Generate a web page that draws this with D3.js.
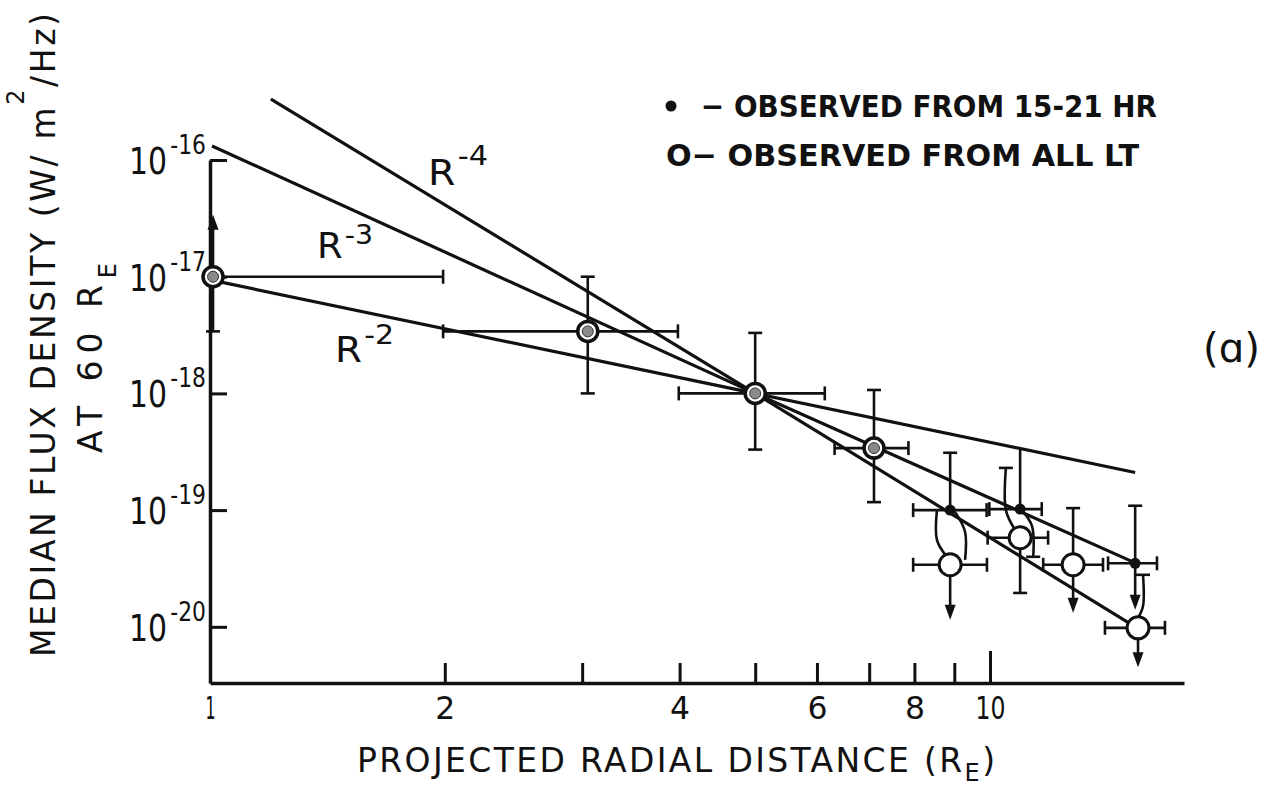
<!DOCTYPE html>
<html>
<head>
<meta charset="utf-8">
<script src="https://cdn.jsdelivr.net/npm/d3@7"></script>
<style>
  body { margin: 0; background: #fff; }
  svg { display: block; font-family: 'DejaVu Sans', sans-serif; }
</style>
</head>
<body>
<script>
// axis ticks
const xTicks = [1, 2, 3, 4, 5, 6, 7, 8, 9, 10];
const xLabels = [1, 2, 4, 6, 8, 10];
const yTicks = [1e-16, 1e-17, 1e-18, 1e-19, 1e-20];
const yExps = ['-16', '-17', '-18', '-19', '-20'];

// guide lines [R, flux]
const lineR2 = [[1.015, 9.2e-18], [5.0, 1.0e-18], [15.35, 2.1e-19]];
const lineR3 = [[1.006, 1.32e-16], [5.0, 1.0e-18], [15.25, 3.6e-20]];
const lineR4 = [[1.197, 3.33e-16], [5.0, 1.0e-18], [15.43, 9.8e-21]];

// points seen in both samples (circled)
const bothR = [1.009, 3.05, 5.0, 7.1];
const bothFlux = [1.0e-17, 3.4e-18, 1.0e-18, 3.4e-19];
const bothRLo = [1.009, 1.99, 3.99, 6.32];
const bothRHi = [1.99, 3.98, 6.14, 7.86];
const bothFLo = [3.4e-18, 1.0e-18, 3.3e-19, 1.17e-19];
const bothFHi = [3.4e-17, 1.0e-17, 3.3e-18, 1.07e-18];
const bothUp = [true, false, false, false];

// observed from 15-21 HR (filled)
const hrR = [8.89, 10.93, 15.35];
const hrFlux = [1.0e-19, 1.02e-19, 3.5e-20];
const hrRLo = [7.97, 9.98, 14.17];
const hrRHi = [9.9, 11.65, 16.37];
const hrFHi = [3.1e-19, 3.3e-19, 1.09e-19];
const hrCapTop = [true, false, true];
const hrFLo = [null, null, 1.4e-20];

// observed from all LT (open)
const allR = [8.89, 10.93, 12.78, 15.48];
const allFlux = [3.4e-20, 5.8e-20, 3.4e-20, 9.8e-21];
const allRLo = [7.97, 9.93, 11.7, 14.04];
const allRHi = [9.91, 11.87, 13.96, 16.76];
const allFHi = [null, null, 1.04e-19, null];
const allFLo = [1.15e-20, 1.95e-20, 1.32e-20, 4.5e-21];
const allDown = [true, false, true, true];

// hand drawn links between filled and open points
const links = [
  [[8.55, 1.0e-19], [8.55, 5.56e-20], [8.78, 4.07e-20]],
  [[9.02, 9.66e-20], [9.29, 6.52e-20], [9.29, 3.75e-20]],
  [[10.48, 2.3e-19], [10.48, 1.0e-19], [10.73, 7.05e-20]],
  [[10.99, 1.0e-19], [11.32, 7.3e-20], [11.36, 3.98e-20]],
  [[15.48, 1.19e-20], [15.71, 1.51e-20], [15.71, 2.79e-20]]
];
const linkCap = ['', '', 'start', 'end', 'end'];

const W = 1276, H = 793;
const ink = '#111';

const svg = d3.select('body').append('svg').attr('width', W).attr('height', H);

const x = d3.scaleLog().domain([1, 17.73]).range([210, 1184]);
const y = d3.scaleLog().domain([3.3e-21, 1e-16]).range([683, 160]);

// text made of pieces: [string, fontSize, dy, dx]
function label(g, px, py, parts, len, mode) {
  const t = g.append('text').attr('x', px).attr('y', py).attr('fill', ink);
  parts.forEach(p => {
    t.append('tspan').attr('font-size', p[1]).attr('dy', p[2] || 0).attr('dx', p[3] || 0).text(p[0]);
  });
  if (len) t.attr('textLength', len).attr('lengthAdjust', mode || 'spacingAndGlyphs');
  return t;
}

// axes
const xAxis = d3.axisBottom(x).tickValues(xTicks).tickSize(-20).tickSizeOuter(0)
  .tickFormat(d => xLabels.includes(d) ? d : '');
const gx = svg.append('g').attr('transform', 'translate(0,683)').call(xAxis);
gx.select('.domain').attr('stroke', ink).attr('stroke-width', 3.5);
gx.selectAll('.tick line').attr('stroke', ink).attr('stroke-width', 3)
  .attr('y2', d => d === 1 ? 0 : (d === 10 ? -32 : -20));
gx.selectAll('.tick text').attr('fill', ink).attr('font-size', 32)
  .attr('font-family', 'DejaVu Sans').attr('y', 13)
  .attr('textLength', d => d === 10 ? 30 : (d === 1 ? 10 : 20))
  .attr('lengthAdjust', 'spacingAndGlyphs');

const yAxis = d3.axisLeft(y).tickValues(yTicks).tickSize(-17).tickSizeOuter(0).tickFormat(() => '');
const gy = svg.append('g').attr('transform', 'translate(210,0)').call(yAxis);
gy.select('.domain').attr('stroke', ink).attr('stroke-width', 3.5);
gy.selectAll('.tick line').attr('stroke', ink).attr('stroke-width', 3);

yTicks.forEach((v, i) => {
  label(svg, 129, y(v) + 14, [['10', 37], [yExps[i], 27, -20, 4]], 77);
});

// guide lines
const guide = d3.line().x(d => x(d[0])).y(d => y(d[1]));
[lineR2, lineR3, lineR4].forEach(l => {
  svg.append('path').attr('d', guide(l)).attr('fill', 'none')
    .attr('stroke', ink).attr('stroke-width', 3.2);
});

// error bars
const bars = svg.append('g').attr('stroke', ink).attr('stroke-width', 2.6).attr('fill', 'none');
function seg(x1, y1, x2, y2) {
  bars.append('line').attr('x1', x1).attr('y1', y1).attr('x2', x2).attr('y2', y2);
}
function tee(px, py, vert) {
  if (vert) seg(px, py - 7, px, py + 7); else seg(px - 7, py, px + 7, py);
}
function head(px, py, dir) {
  svg.append('path')
    .attr('d', `M${px},${py} L${px - 5.5},${py - dir * 15} L${px + 5.5},${py - dir * 15} Z`)
    .attr('fill', ink);
}
function vbar(cx, top, bot, topKind, botKind) {
  seg(cx, top + (topKind === 'arrow' ? 10 : 0), cx, bot - (botKind === 'arrow' ? 10 : 0));
  if (topKind === 'cap') tee(cx, top, false);
  if (topKind === 'arrow') head(cx, top, -1);
  if (botKind === 'cap') tee(cx, bot, false);
  if (botKind === 'arrow') head(cx, bot, 1);
}

bothR.forEach((r, i) => {
  const cx = x(r), cy = y(bothFlux[i]);
  seg(x(bothRLo[i]), cy, x(bothRHi[i]), cy);
  if (bothRLo[i] < r) tee(x(bothRLo[i]), cy, true);
  tee(x(bothRHi[i]), cy, true);
  vbar(cx, y(bothFHi[i]), y(bothFLo[i]), bothUp[i] ? 'arrow' : 'cap', 'cap');
});

hrR.forEach((r, i) => {
  const cx = x(r), cy = y(hrFlux[i]);
  seg(x(hrRLo[i]), cy, x(hrRHi[i]), cy);
  tee(x(hrRLo[i]), cy, true);
  tee(x(hrRHi[i]), cy, true);
  if (hrFLo[i]) vbar(cx, y(hrFHi[i]), y(hrFLo[i]), 'cap', 'arrow');
  else vbar(cx, y(hrFHi[i]), cy, hrCapTop[i] ? 'cap' : '', '');
});

allR.forEach((r, i) => {
  const cx = x(r), cy = y(allFlux[i]);
  seg(x(allRLo[i]), cy, x(allRHi[i]), cy);
  tee(x(allRLo[i]), cy, true);
  tee(x(allRHi[i]), cy, true);
  const top = allFHi[i] ? y(allFHi[i]) : cy;
  vbar(cx, top, y(allFLo[i]), allFHi[i] ? 'cap' : '', allDown[i] ? 'arrow' : 'cap');
});

const linkPath = d3.line().x(d => x(d[0])).y(d => y(d[1])).curve(d3.curveCatmullRom);
links.forEach((l, i) => {
  bars.append('path').attr('d', linkPath(l));
  if (linkCap[i] === 'start') tee(x(l[0][0]), y(l[0][1]), false);
  if (linkCap[i] === 'end') tee(x(l[2][0]), y(l[2][1]), false);
});

// markers
const marks = svg.append('g');
bothR.forEach((r, i) => {
  const g = marks.append('g').attr('transform', `translate(${x(r)},${y(bothFlux[i])})`);
  g.append('circle').attr('r', 10).attr('fill', '#fff').attr('stroke', ink).attr('stroke-width', 3.5);
  g.append('circle').attr('r', 5.5).attr('fill', '#8a8a8a').attr('stroke', '#333').attr('stroke-width', 1);
});
allR.forEach((r, i) => {
  marks.append('circle').attr('cx', x(r)).attr('cy', y(allFlux[i])).attr('r', 11)
    .attr('fill', '#fff').attr('stroke', ink).attr('stroke-width', 3);
});
hrR.forEach((r, i) => {
  marks.append('circle').attr('cx', x(r)).attr('cy', y(hrFlux[i])).attr('r', 5.5).attr('fill', ink);
});

// curve labels
label(svg, 428, 185, [['R', 35], ['-4', 27, -20, 2]], 60);
label(svg, 317, 258, [['R', 35], ['-3', 27, -14, 2]], 56);
label(svg, 335, 362, [['R', 35], ['-2', 27, -18, 2]], 59);

// legend
svg.append('circle').attr('cx', 671).attr('cy', 106).attr('r', 5.5).attr('fill', ink);
label(svg, 701, 117, [['\u2212 OBSERVED FROM 15-21 HR', 31]], 456).attr('font-weight', 'bold');
label(svg, 666, 166, [['O\u2212 OBSERVED FROM ALL LT', 31]], 473).attr('font-weight', 'bold');

label(svg, 1203, 362, [['(\u0251)', 40]], 57);

// axis titles
label(svg, 357, 772, [['PROJECTED  RADIAL  DISTANCE (R', 33], ['E', 24, 9], [')', 33, -9]], 638, 'spacing');

const yt = svg.append('g').attr('transform', 'rotate(-90)');
label(yt, -657, 55, [['MEDIAN  FLUX  DENSITY (W/ m', 33], ['2', 24, -31], ['/Hz)', 33, 31]], 644, 'spacing');
label(yt, -453, 102, [['AT 60 R', 33], ['E', 24, 14]], 190, 'spacing');
</script>
</body>
</html>
